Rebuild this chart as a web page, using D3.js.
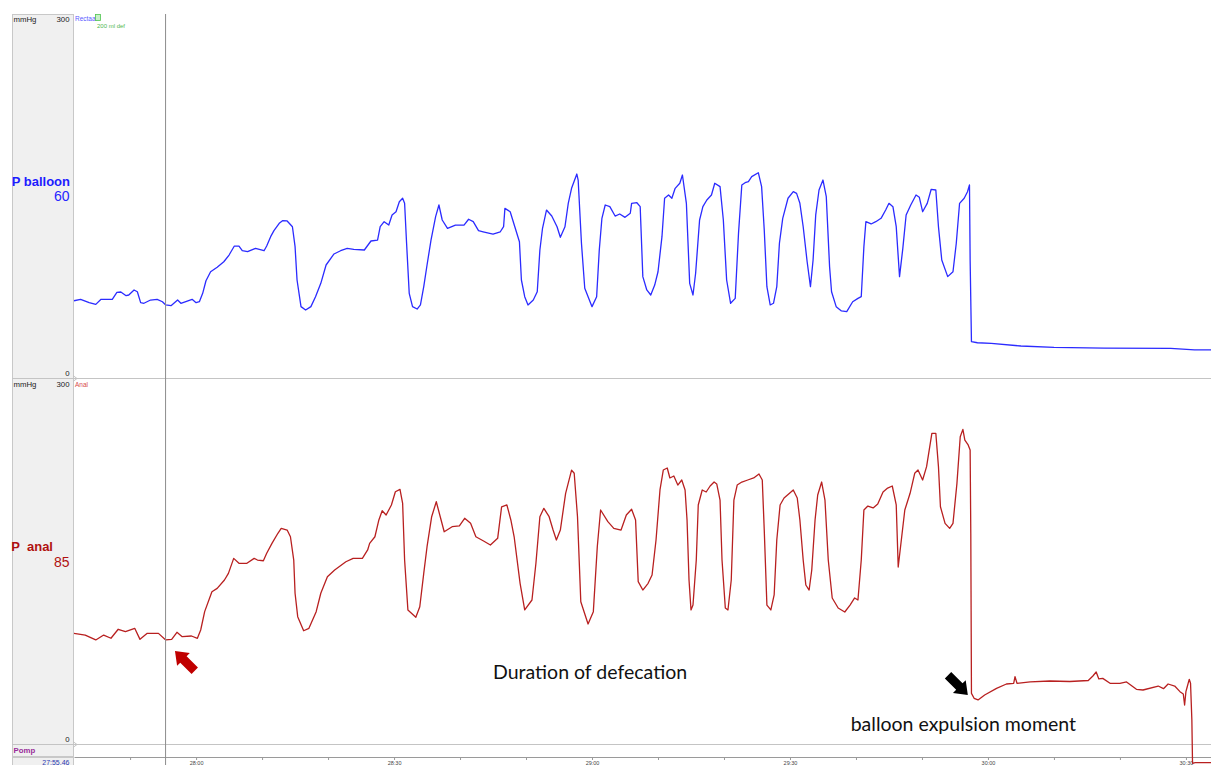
<!DOCTYPE html>
<html>
<head>
<meta charset="utf-8">
<script src="https://cdn.jsdelivr.net/npm/d3@7"></script>
<style>
  body { margin: 0; background: #fff; overflow: hidden; }
  svg { display: block; }
</style>
</head>
<body>
<svg id="chart"></svg>
<script>
// Recording clock in seconds (28:00 = 1680 s), pressures in mmHg
var timeRange = [1661.5, 1833.8];
var cursorTime = 1675.3;
var minorTicks = d3.range(1670, 1834, 10);
var majorTicks = [1680, 1710, 1740, 1770, 1800, 1830];
var majorLabels = ["28:00", "28:30", "29:00", "29:30", "30:00", "30:30"];

// P balloon (rectal) trace
var balloonTrace = [
  [1661.5,62.7],[1662.5,63.9],[1663.8,61.1],[1664.8,59.7],[1665.6,63.9],[1667.3,63.9],[1668.0,69.7],[1668.6,70.0],
  [1669.4,66.9],[1669.8,67.5],[1670.6,71.7],[1671.1,70.2],[1671.6,61.1],[1672.1,60.6],[1673.1,63.3],[1674.1,63.9],
  [1674.9,61.9],[1675.4,59.2],[1676.2,58.6],[1677.2,63.3],[1677.7,60.6],[1679.4,63.9],[1680.0,61.1],[1680.5,61.9],
  [1681.0,68.9],[1681.5,79.4],[1682.2,86.9],[1683.2,90.6],[1684.2,95.2],[1685.0,100.8],[1685.8,108.3],[1686.5,108.3],
  [1687.0,104.4],[1687.8,103.6],[1689.0,106.4],[1690.3,104.4],[1690.7,108.3],[1691.3,116.1],[1691.8,121.1],[1692.6,127.2],
  [1693.1,129.4],[1693.8,129.2],[1694.6,124.4],[1695.0,107.8],[1695.3,80.0],[1695.9,57.8],[1696.6,55.0],[1697.4,57.8],
  [1698.1,66.1],[1698.9,77.2],[1699.7,92.5],[1700.9,101.7],[1701.9,104.4],[1702.9,106.4],[1703.9,105.6],[1705.5,105.0],
  [1706.5,112.5],[1707.5,113.3],[1707.9,124.4],[1708.5,128.6],[1709.2,125.8],[1709.7,134.2],[1710.3,136.9],[1710.8,145.2],
  [1711.3,148.1],[1711.6,143.9],[1711.9,110.6],[1712.3,68.9],[1712.8,57.8],[1713.5,55.8],[1714.0,59.2],[1714.5,74.4],
  [1715.0,92.5],[1715.6,113.3],[1716.3,132.8],[1716.8,142.5],[1717.3,130.0],[1718.1,123.1],[1719.3,125.8],[1720.6,125.8],
  [1721.3,130.6],[1722.0,128.6],[1722.8,121.1],[1723.5,120.2],[1725.0,118.3],[1726.1,120.2],[1726.6,124.4],[1726.8,139.7],
  [1727.6,136.9],[1728.3,124.4],[1729.0,111.9],[1729.3,80.0],[1729.8,66.1],[1730.3,59.2],[1731.1,63.3],[1731.7,70.2],
  [1732.1,105.0],[1732.5,123.1],[1733.1,138.3],[1733.9,133.3],[1734.7,124.4],[1735.2,115.6],[1735.9,124.4],[1736.4,143.9],
  [1736.9,156.4],[1737.7,168.3],[1737.9,163.3],[1738.4,110.6],[1738.9,73.1],[1740.0,57.8],[1740.7,66.1],[1741.1,105.0],
  [1741.5,131.4],[1742.0,142.5],[1742.7,141.1],[1743.5,133.3],[1744.2,135.0],[1745.0,132.2],[1745.8,135.6],[1746.0,143.9],
  [1746.8,144.4],[1747.3,141.1],[1747.7,82.8],[1748.3,71.7],[1748.9,67.5],[1749.5,75.8],[1750.0,86.9],[1750.6,116.1],
  [1751.0,148.1],[1751.6,150.8],[1752.1,148.1],[1752.6,156.4],[1753.3,160.6],[1753.7,167.5],[1754.3,143.9],[1754.8,77.2],
  [1755.3,67.5],[1755.7,85.6],[1756.3,130.0],[1756.8,141.1],[1757.4,146.7],[1758.1,150.8],[1758.6,160.6],[1759.4,157.8],
  [1759.9,130.0],[1760.4,80.0],[1761.0,60.6],[1761.7,64.7],[1762.2,118.9],[1762.7,159.2],[1763.2,161.1],[1763.7,161.9],
  [1764.2,166.1],[1765.2,169.4],[1765.7,157.8],[1766.1,121.7],[1766.5,74.4],[1767.0,59.2],[1767.5,60.6],[1768.0,74.4],
  [1768.4,110.6],[1768.9,131.4],[1769.7,148.1],[1770.5,153.6],[1771.0,152.2],[1771.5,143.9],[1772.0,124.4],[1772.6,95.2],
  [1773.1,74.4],[1773.5,96.7],[1773.9,134.2],[1774.4,155.0],[1775.0,163.3],[1775.5,149.4],[1776.0,91.1],[1776.3,70.2],
  [1777.0,57.8],[1777.8,54.2],[1778.6,53.6],[1779.5,61.9],[1780.3,64.7],[1780.8,66.1],[1781.2,107.8],[1781.5,128.6],
  [1782.3,126.7],[1783.0,128.6],[1783.8,131.4],[1784.5,138.3],[1785.0,143.9],[1785.6,141.1],[1786.1,124.4],[1786.6,82.8],
  [1787.1,106.4],[1787.6,134.2],[1788.3,142.5],[1789.1,150.8],[1789.6,148.9],[1790.1,136.9],[1790.8,143.9],[1791.4,155.6],
  [1792.1,155.0],[1792.5,124.4],[1793.0,96.7],[1793.9,82.8],[1794.7,86.9],[1795.2,110.6],[1795.7,143.9],[1796.4,148.1],
  [1796.9,153.6],[1797.2,159.2],[1797.3,96.7],[1797.5,28.6],[1798.4,27.7],[1800.5,27.2],[1805.0,25.0],[1810.0,23.9],
  [1817.6,23.3],[1827.7,23.1],[1831.3,21.7],[1833.8,21.7]
];

// P anal trace
var analTrace = [
  [1661.5,89.7],[1663.2,88.3],[1664.8,84.2],[1666.0,88.3],[1667.1,85.6],[1668.2,93.1],[1669.3,91.1],[1670.7,93.9],
  [1671.5,84.7],[1672.6,89.7],[1674.3,89.7],[1675.4,84.2],[1676.3,84.7],[1677.1,90.6],[1677.9,86.9],[1679.3,87.5],
  [1680.2,85.6],[1680.7,92.5],[1681.3,107.8],[1682.4,124.4],[1683.2,127.2],[1684.3,134.2],[1684.9,139.7],[1685.7,152.2],
  [1686.5,148.1],[1687.7,148.1],[1688.8,152.2],[1689.3,150.8],[1690.2,150.2],[1690.7,156.4],[1691.5,164.7],[1692.4,173.1],
  [1692.9,177.2],[1693.8,175.8],[1694.3,170.2],[1694.8,150.8],[1695.0,123.1],[1695.4,103.6],[1696.3,91.9],[1697.1,93.9],
  [1698.2,107.8],[1698.9,123.1],[1699.9,136.9],[1701.0,142.5],[1702.7,149.4],[1703.8,152.2],[1705.2,152.2],[1706.0,159.2],
  [1706.3,164.7],[1707.1,170.2],[1707.7,184.2],[1708.2,191.9],[1708.8,188.3],[1709.6,196.7],[1710.2,207.7],[1710.9,209.7],
  [1711.3,198.1],[1711.6,150.8],[1712.1,109.2],[1713.3,103.1],[1713.9,111.9],[1714.5,139.7],[1715.0,161.9],[1715.7,186.9],
  [1716.4,199.4],[1717.0,186.9],[1717.6,174.4],[1718.8,178.6],[1719.9,179.2],[1720.7,185.6],[1721.6,181.4],[1722.4,170.2],
  [1723.5,166.9],[1724.6,163.3],[1725.7,168.9],[1726.3,195.2],[1727.1,196.7],[1727.7,184.2],[1728.2,170.2],[1729.1,131.4],
  [1729.8,109.2],[1730.9,117.5],[1731.5,148.1],[1732.1,186.9],[1732.7,193.9],[1733.5,186.9],[1734.1,175.8],[1734.6,167.5],
  [1735.2,175.8],[1736.0,206.4],[1736.9,225.8],[1737.3,223.1],[1737.8,186.9],[1738.3,116.1],[1739.4,97.5],[1740.2,107.8],
  [1740.8,161.9],[1741.3,192.5],[1742.4,182.8],[1743.3,177.2],[1744.4,175.8],[1745.2,188.3],[1746.0,193.1],[1746.6,184.2],
  [1747.0,132.8],[1747.7,125.8],[1748.5,131.4],[1749.1,138.3],[1749.7,167.5],[1750.3,209.2],[1750.8,225.8],[1751.4,227.5],
  [1751.8,219.2],[1752.4,220.8],[1753.0,213.3],[1753.6,217.5],[1754.1,209.2],[1754.4,184.2],[1754.7,134.2],[1755.0,109.2],
  [1755.3,113.3],[1755.8,150.8],[1756.1,196.7],[1756.7,209.2],[1757.3,207.5],[1757.9,212.5],[1758.5,215.8],[1758.9,214.2],
  [1759.4,200.8],[1759.7,150.8],[1760.2,110.8],[1760.6,109.2],[1761.1,134.2],[1761.5,200.8],[1762.0,213.3],[1762.7,215.8],
  [1763.6,217.5],[1764.5,219.2],[1765.3,222.5],[1765.8,217.5],[1766.1,175.8],[1766.5,113.3],[1767.1,109.2],[1767.6,121.7],
  [1768.0,167.5],[1768.5,196.7],[1769.1,202.5],[1769.8,205.8],[1770.5,209.2],[1771.1,202.5],[1771.5,184.2],[1772.0,150.8],
  [1772.4,130.0],[1772.9,125.8],[1773.3,142.5],[1773.8,184.2],[1774.2,205.0],[1774.8,215.8],[1775.3,200.8],[1775.8,150.8],
  [1776.4,119.2],[1777.3,110.8],[1778.3,107.5],[1779.1,113.3],[1779.8,119.2],[1780.3,117.5],[1780.8,150.8],[1781.2,192.5],
  [1781.8,195.8],[1782.6,194.2],[1783.3,197.5],[1784.1,207.5],[1784.8,210.8],[1785.5,212.5],[1786.1,196.7],[1786.4,145.0],
  [1787.4,192.5],[1788.2,206.4],[1788.9,223.1],[1789.4,225.8],[1790.1,217.5],[1790.7,228.6],[1791.5,256.4],[1792.1,256.4],
  [1792.5,228.6],[1792.8,195.2],[1793.5,181.4],[1794.2,177.2],[1794.7,181.4],[1795.3,214.7],[1795.8,253.6],[1796.2,259.7],
  [1796.5,250.8],[1797.0,246.7],[1797.3,242.5],[1797.4,173.1],[1797.5,39.7],[1797.9,35.6],[1798.5,34.2],[1799.5,38.3],
  [1801.3,43.9],[1802.8,47.5],[1803.9,48.1],[1804.1,53.6],[1804.4,48.1],[1806.4,49.2],[1809.4,50.0],[1812.4,49.6],
  [1815.2,50.4],[1815.9,54.2],[1816.4,57.5],[1816.8,51.7],[1817.4,52.2],[1818.5,48.1],[1820.0,48.1],[1821.0,49.2],
  [1822.5,43.1],[1823.5,42.5],[1825.8,45.8],[1826.6,43.6],[1827.3,47.5],[1828.3,45.8],[1829.1,41.1],[1829.6,39.2],
  [1829.8,30.0],[1830.0,41.1],[1830.2,45.2],[1830.5,51.4],[1830.7,48.1],[1830.9,17.5],[1831.0,-18.6],[1831.4,-18.1],
  [1833.8,-18.1]
];

// annotations on the anal panel: [text, time, mmHg]
var notes = [["Duration of defecation", 1725.0, 51.7], ["balloon expulsion moment", 1779.2, 8.3]];
var arrowTips = [[1676.8, 75.0], [1796.95, 38.3]];

var w = 1211, h = 765;
var svg = d3.select("#chart").attr("width", w).attr("height", h);

var x = d3.scaleLinear().domain(timeRange).range([74, 1211]);
var yTop = d3.scaleLinear().domain([0, 300]).range([376, 16]);
var yBot = d3.scaleLinear().domain([0, 300]).range([741, 381]);

var sans = "'Liberation Sans', Arial, sans-serif";

// left label column
var cells = [[14, 378], [378, 744], [744, 756], [757, 770]];
svg.selectAll("rect.cell").data(cells).enter().append("rect")
  .attr("class", "cell")
  .attr("x", 12.5).attr("y", function(d) { return d[0] + 0.5; })
  .attr("width", 61).attr("height", function(d) { return d[1] - d[0]; })
  .attr("fill", "#f0f0f0").attr("stroke", "#c8c8c8");

// panel separators
[378.5, 744.5].forEach(function(yy) {
  svg.append("line").attr("x1", 12).attr("x2", w).attr("y1", yy).attr("y2", yy)
    .attr("stroke", "#c4c4c4");
  svg.append("path").attr("d", "M73," + (yy - 3) + "L77," + yy + "L73," + (yy + 3))
    .attr("fill", "none").attr("stroke", "#c4c4c4");
});

// time axis
var axis = d3.axisBottom(x)
  .tickValues(minorTicks)
  .tickSize(3).tickSizeOuter(0).tickPadding(0)
  .tickFormat(function(d) { var i = majorTicks.indexOf(d); return i < 0 ? "" : majorLabels[i]; });
var gx = svg.append("g").attr("transform", "translate(0,757)").call(axis);
gx.select(".domain").attr("stroke", "#9a9a9a");
gx.selectAll(".tick line").attr("stroke", "#9a9a9a");
gx.selectAll(".tick text").attr("fill", "#444").attr("dy", null).attr("y", 7.5)
  .style("font", "5.5px " + sans);

// traces
var lineTop = d3.line().x(function(d) { return x(d[0]); }).y(function(d) { return yTop(d[1]); });
var lineBot = d3.line().x(function(d) { return x(d[0]); }).y(function(d) { return yBot(d[1]); });

svg.append("path").datum(balloonTrace)
  .attr("fill", "none").attr("stroke", "#2b2bff").attr("stroke-width", 1.3)
  .attr("stroke-linejoin", "round").attr("d", lineTop);

svg.append("path").datum(analTrace)
  .attr("fill", "none").attr("stroke", "#b82020").attr("stroke-width", 1.3)
  .attr("stroke-linejoin", "round").attr("d", lineBot);

// cursor
svg.append("line")
  .attr("x1", x(cursorTime) + 0.5).attr("x2", x(cursorTime) + 0.5)
  .attr("y1", 14).attr("y2", h)
  .attr("stroke", "#8c8c8c").attr("stroke-width", 1);

// channel labels
function label(txt, xx, yy, size, colour, weight, anchor) {
  return svg.append("text").attr("x", xx).attr("y", yy)
    .attr("text-anchor", anchor || "start")
    .attr("fill", colour)
    .style("font-family", sans).style("font-size", size + "px")
    .style("font-weight", weight || "normal")
    .style("white-space", "pre")
    .text(txt);
}
label("mmHg", 13.5, 21.5, 7.8, "#222");
label("300", 69.5, 21.5, 7.8, "#222", "normal", "end");
label("0", 69.5, 376, 7.8, "#222", "normal", "end");
label("Rectaal", 75, 20.5, 6.5, "#5a5aff");
svg.append("rect").attr("x", 95.5).attr("y", 14.5).attr("width", 5).attr("height", 6)
  .attr("fill", "#c9f0c9").attr("stroke", "#4fc44f").attr("stroke-width", 0.8);
label("200 ml def", 97, 27.5, 6, "#4fb84f");

label("mmHg", 13.5, 387, 7.8, "#222");
label("300", 69.5, 387, 7.8, "#222", "normal", "end");
label("0", 69.5, 741.5, 7.8, "#222", "normal", "end");
label("Anal", 75, 386.5, 6.5, "#d84a4a");

label("Pomp", 13.5, 752.5, 7.8, "#992c99", "bold");
label("27:55.46", 69.5, 764.5, 7, "#2a3ab0", "normal", "end");

label("P balloon", 70, 185.5, 13, "#1c1cff", "bold", "end");
label("60", 69.5, 201, 14, "#2626ff", "normal", "end");
label("P  anal", 53, 551, 13, "#b01010", "bold", "end");
label("85", 69.5, 567, 14, "#b01010", "normal", "end");

// annotations
svg.selectAll("text.note").data(notes).enter().append("text")
  .attr("class", "note")
  .attr("x", function(d) { return x(d[1]); })
  .attr("y", function(d) { return yBot(d[2]); })
  .attr("fill", "#111")
  .style("font-family", "Lato, 'Open Sans', sans-serif").style("font-size", "19.5px")
  .text(function(d) { return d[0]; });

// block arrows, drawn pointing right with the tip at the origin
var arrowShape = "M0,0L-12,-9L-12,-4.5L-28,-4.5L-28,4.5L-12,4.5L-12,9Z";
var arrowAngles = [225, 45];
var arrowColours = ["#c00000", "#000"];
svg.selectAll("path.arrow").data(arrowTips).enter().append("path")
  .attr("class", "arrow")
  .attr("d", arrowShape)
  .attr("transform", function(d, i) {
    return "translate(" + x(d[0]) + "," + yBot(d[1]) + ") rotate(" + arrowAngles[i] + ")";
  })
  .attr("fill", function(d, i) { return arrowColours[i]; });
</script>
</body>
</html>
